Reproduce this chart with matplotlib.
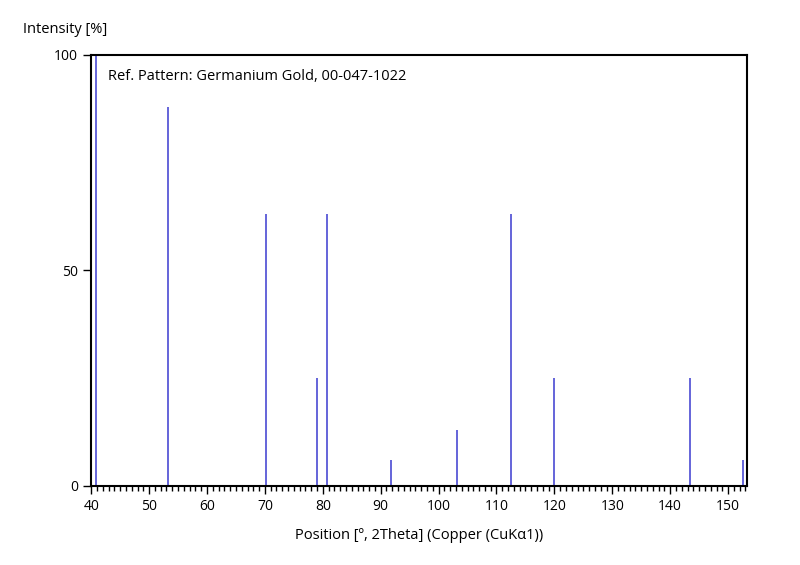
import matplotlib.pyplot as plt
from matplotlib.ticker import MultipleLocator

plt.rcParams['font.family'] = ['Open Sans', 'DejaVu Sans']

# reference pattern peaks: position (2Theta) and relative intensity (%)
positions = [40.75, 53.2, 70.2, 79.05, 80.75, 91.85, 103.2, 112.55, 120.0, 143.35, 152.5]
intensities = [100, 88, 63, 25, 63, 6, 13, 63, 25, 25, 6]

fig = plt.figure(figsize=(8, 5.65), dpi=100)
ax = fig.add_axes([0.114, 0.140, 0.820, 0.763])

ax.vlines(positions, 0, intensities, colors='#3b3bd0', linewidth=1.1)

ax.set_xlim(40, 153.3)
ax.set_ylim(0, 100)
ax.xaxis.set_major_locator(MultipleLocator(10))
ax.xaxis.set_minor_locator(MultipleLocator(1))
ax.set_yticks([0, 50, 100])
ax.tick_params(axis='both', which='major', length=6, width=1, labelsize=10, direction='out')
ax.tick_params(axis='x', which='minor', length=3.5, width=1, direction='out')

for s in ax.spines.values():
    s.set_linewidth(1.5)

ax.text(0.025, 0.95, 'Ref. Pattern: Germanium Gold, 00-047-1022', transform=ax.transAxes,
        fontsize=10.5, va='center', ha='left')
fig.text(0.029, 0.947, 'Intensity [%]', fontsize=10.5, va='center', ha='left')
ax.set_xlabel('Position [º, 2Theta] (Copper (CuKα1))', fontsize=10.5, labelpad=10)

fig.savefig('out.png', dpi=100)
